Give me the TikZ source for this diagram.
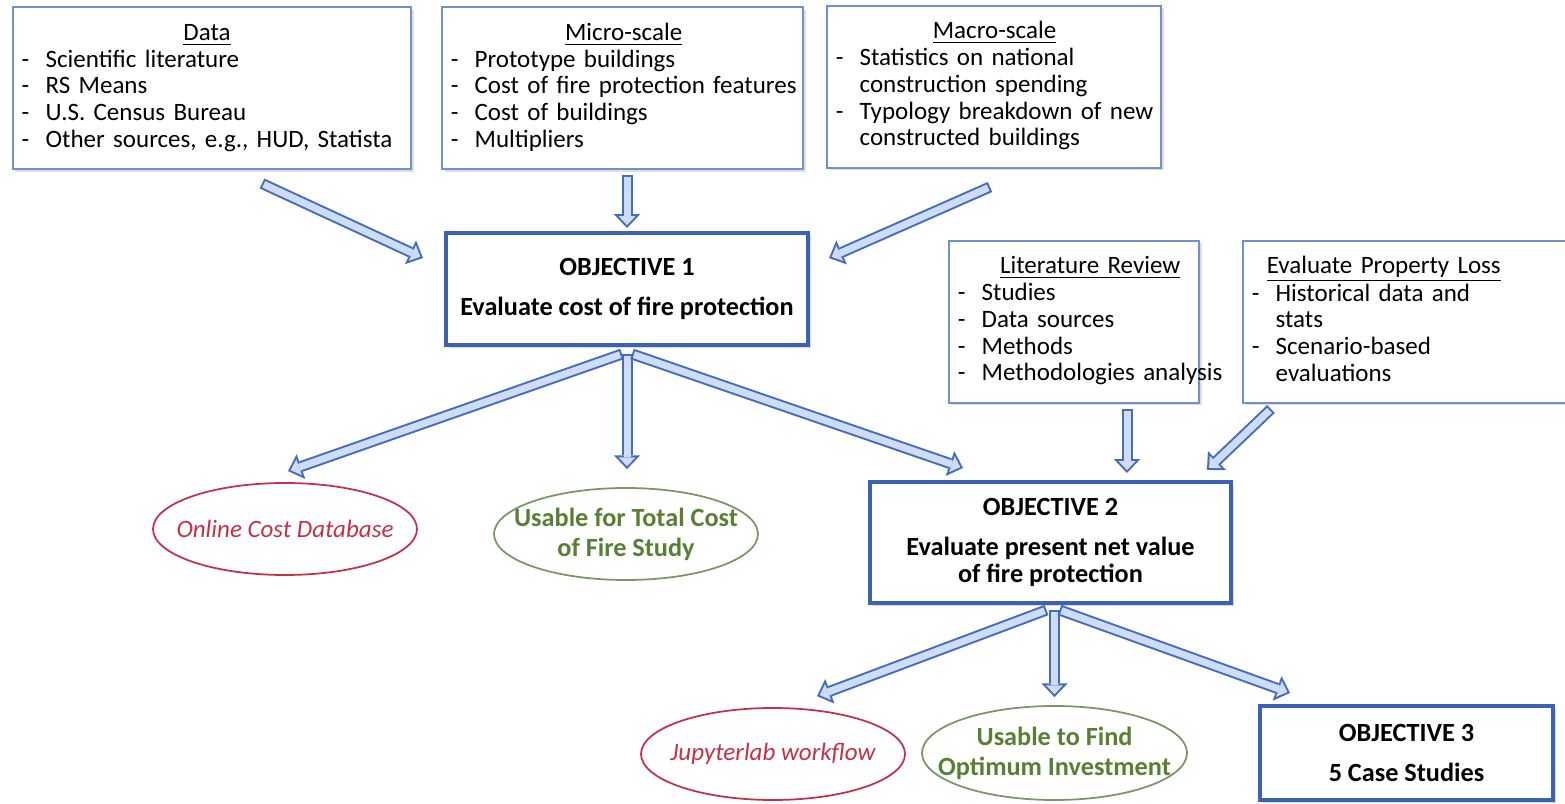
\documentclass[tikz,border=0pt]{standalone}
\usepackage{fontspec}
\setmainfont{Carlito}
\usetikzlibrary{shapes.geometric,arrows.meta,calc,shadows,positioning}

\definecolor{boxbdr}{RGB}{112,146,204}
\definecolor{objbdr}{RGB}{58,98,182}
\definecolor{arrbdr}{RGB}{70,108,190}
\definecolor{arrfill}{RGB}{206,221,245}
\definecolor{outred}{RGB}{196,48,72}
\definecolor{outgrn}{RGB}{88,128,52}
\definecolor{grnbdr}{RGB}{122,150,104}

\newcommand{\itemlist}[2]{\begin{tabular}{@{}l@{\hspace{6.5pt}}l@{}}\multicolumn{2}{c}{\underline{#1}}\\#2\end{tabular}}

\tikzset{
	listbox/.style={draw=boxbdr, line width=0.8pt, fill=white, inner xsep=3.5pt, align=left, minimum height=64.8pt,
		drop shadow={shadow xshift=1pt, shadow yshift=-1pt, opacity=0.25}},
	objbox/.style={draw=objbdr, line width=1.6pt, fill=white, align=center, font=\bfseries\fontsize{10.5}{11}\selectfont,
		drop shadow={shadow xshift=1.2pt, shadow yshift=-1.2pt, opacity=0.3}},
	outbox/.style={ellipse, line width=0.7pt, minimum width=105.6pt, minimum height=36.8pt, inner sep=0pt},
	redout/.style={outbox, draw=outred},
	grnout/.style={outbox, draw=grnbdr},
	redtext/.style={text=outred, align=center, font=\itshape\fontsize{10}{12}\selectfont},
	grntext/.style={text=outgrn, align=center, font=\bfseries\fontsize{10.5}{12}\selectfont},
	blockarr/.style={line width=4.4pt, draw=arrbdr, -{Triangle[length=5.5pt,width=10.5pt,line width=0pt]},
		postaction={draw=arrfill, line width=2.8pt, shorten <=0.8pt, shorten >=1.16pt,
			-{Triangle[length=3.54pt,width=6.76pt,line width=0pt]}}}
}

\begin{document}
\begin{tikzpicture}[x=0.4pt,y=-0.4pt,font=\fontsize{10}{10.7}\selectfont]
	\useasboundingbox (0,0) rectangle (1565,804);
	% inputs of objective 1
	\node[listbox, text width=152.2pt] (data) at (212,88.5) {\itemlist{Data}{- & Scientific literature\\ - & RS Means\\ - & U.S. Census Bureau\\ - & Other sources, e.g., HUD, Statista}};
	\node[listbox, text width=137.4pt] (micro) at (622.5,88.5) {\itemlist{Micro-scale}{- & Prototype buildings\\ - & Cost of fire protection features\\ - & Cost of buildings\\ - & Multipliers}};
	\node[listbox, text width=126.6pt] (macro) at (994,87) {\itemlist{Macro-scale}{- & Statistics on national\\ & construction spending\\ - & Typology breakdown of new\\ & constructed buildings}};
	\node[objbox, minimum width=144.8pt, minimum height=44.8pt] (obj1) at (627,289) {OBJECTIVE 1\\[5pt]Evaluate cost of fire protection};
	% inputs of objective 2
	\node[listbox, text width=93pt] (lit) at (1074,322) {\itemlist{Literature Review}{- & Studies\\ - & Data sources\\ - & Methods\\ - & Methodologies analysis}};
	\node[listbox, text width=123pt] (epl) at (1405.5,322) {\itemlist{Evaluate Property Loss}{- & Historical data and\\ & stats\\ - & Scenario-based\\ & evaluations}};
	\node[objbox, minimum width=144.4pt, minimum height=48.4pt] (obj2) at (1050.5,542.5) {OBJECTIVE 2\\[5pt]Evaluate present net value\\of fire protection};
	% outcomes
	\node[redout, label={[redtext]center:Online Cost Database}] (online) at (285,529) {};
	\node[grnout, label={[grntext]center:Usable for Total Cost\\of Fire Study}] (usable1) at (626,534) {};
	\node[redout, label={[redtext]center:Jupyterlab workflow}] (jupyter) at (773,754) {};
	\node[grnout, minimum width=106pt, minimum height=37.6pt, label={[grntext]center:Usable to Find\\Optimum Investment}] (usable2) at (1054.5,753) {};
	\node[objbox, minimum width=117.2pt, minimum height=37.6pt] (obj3) at (1406.5,753) {OBJECTIVE 3\\[5pt]5 Case Studies};
	% arrows
	\draw[blockarr] ($(data.south)+(50,13)$) -- ($(obj1.west)+(-21,-31)$);
	\draw[blockarr] ($(micro.south -| obj1.north)+(0,5)$) -- ($(obj1.north)+(0,-3)$);
	\draw[blockarr] ($(macro.south)+(-4,18)$) -- ($(obj1.east)+(19,-31)$);
	\draw[blockarr] ($(obj1.south)+(-5,7)$) -- ($(online.north)+(3,-11)$);
	\draw[blockarr] ($(obj1.south)+(0,7)$) -- ($(obj1.south |- usable1.north)+(0,-18)$);
	\draw[blockarr] ($(obj1.south)+(5,7)$) -- ($(obj2.north west)+(95,-12)$);
	\draw[blockarr] ($(obj2.north east |- lit.south)+(-106,5)$) -- ($(obj2.north east)+(-106,-7)$);
	\draw[blockarr] ($(epl.south west)+(29,5)$) -- ($(obj2.north east)+(-26,-10)$);
	\draw[blockarr] ($(obj2.south)+(-4,5)$) -- ($(jupyter.north)+(44,-11)$);
	\draw[blockarr] ($(obj2.south -| usable2.north)+(0,5)$) -- ($(usable2.north)+(0,-8)$);
	\draw[blockarr] ($(obj2.south)+(9,5)$) -- ($(obj3.north west)+(32,-11)$);
\end{tikzpicture}
\end{document}
